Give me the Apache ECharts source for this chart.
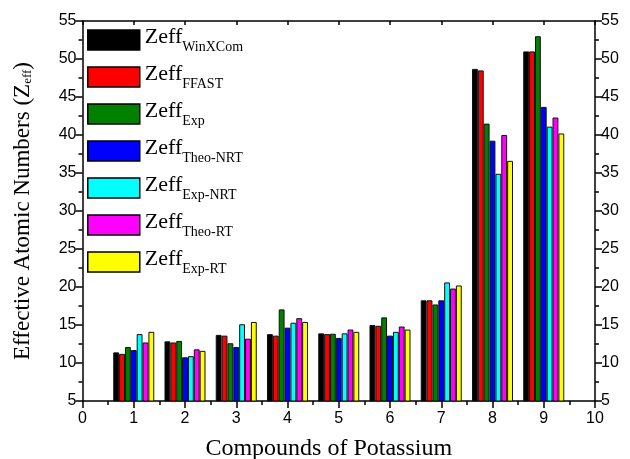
<!DOCTYPE html>
<html>
<head>
<meta charset="utf-8">
<script src="https://cdn.jsdelivr.net/npm/echarts@6/dist/echarts.min.js"></script>
<style>html,body{margin:0;padding:0;background:#fff;}#c{width:630px;height:459px;}</style>
</head>
<body>
<div id="c"></div>
<script>
var compounds = [1, 2, 3, 4, 5, 6, 7, 8, 9];
var xTicks = ['0','1','2','3','4','5','6','7','8','9','10'];
var yTicks = [5, 10, 15, 20, 25, 30, 35, 40, 45, 50, 55];
var seriesNames = ['WinXCom', 'FFAST', 'Exp', 'Theo-NRT', 'Exp-NRT', 'Theo-RT', 'Exp-RT'];
var seriesColors = ['#000000', '#ff0000', '#007f00', '#0000ff', '#00ffff', '#ff00ff', '#ffff00'];
var zeffWinXCom = [11.4, 12.85, 13.7, 13.8, 13.9, 15.0, 18.25, 48.7, 51.0];
var zeffFFAST   = [11.2, 12.7, 13.6, 13.6, 13.8, 14.9, 18.25, 48.5, 51.0];
var zeffExp     = [12.1, 12.9, 12.6, 17.05, 13.85, 16.0, 17.7, 41.5, 53.0];
var zeffTheoNRT = [11.7, 10.75, 12.1, 14.65, 13.3, 13.6, 18.25, 39.25, 43.7];
var zeffExpNRT  = [13.8, 10.9, 15.1, 15.3, 13.9, 14.1, 20.6, 34.9, 41.1];
var zeffTheoRT  = [12.7, 11.8, 13.2, 15.9, 14.4, 14.8, 19.8, 40.0, 42.3];
var zeffExpRT   = [14.1, 11.6, 15.4, 15.4, 14.1, 14.4, 20.2, 36.6, 40.2];
var allValues = [zeffWinXCom, zeffFFAST, zeffExp, zeffTheoNRT, zeffExpNRT, zeffTheoRT, zeffExpRT];

var chart = echarts.init(document.getElementById('c'));
var axisLineStyle = {color: '#000', width: 1.5};
var labelFont = {fontFamily: 'Liberation Sans, Arial, sans-serif', fontSize: 16, color: '#000'};

var series = seriesNames.map(function (n, i) {
  return {
    name: n,
    type: 'bar',
    barWidth: 5.86,
    barGap: '0%',
    itemStyle: {color: seriesColors[i], borderColor: '#111', borderWidth: 1},
    data: compounds.map(function (c, j) { return [c, allValues[i][j]]; })
  };
});

chart.setOption({
  animation: false,
  backgroundColor: '#fff',
  grid: {left: 82.5, right: 35, top: 21, bottom: 58, containLabel: false, outerBoundsMode: 'none'},
  legend: {
    orient: 'vertical',
    left: 82,
    top: 21,
    itemWidth: 52,
    itemHeight: 20,
    itemGap: 9,
    icon: 'rect',
    itemStyle: {borderColor: '#000', borderWidth: 1.5},
    data: seriesNames,
    formatter: function (name) { return '{a|Zeff}{b|' + name + '}'; },
    textStyle: {
      rich: {
        a: {fontFamily: 'Liberation Serif', fontSize: 22, color: '#000', lineHeight: 28, verticalAlign: 'top'},
        b: {fontFamily: 'Liberation Serif', fontSize: 14, color: '#000', lineHeight: 14, verticalAlign: 'bottom', padding: [14, 0, 0, 0]}
      }
    }
  },
  xAxis: [{
    type: 'value', min: 0, max: 10, interval: 1,
    name: 'Compounds of Potassium', nameLocation: 'middle', nameGap: 36,
    nameTextStyle: {fontFamily: 'Liberation Serif', fontSize: 24, color: '#000', padding: [0, 20, 0, 0]},
    axisLine: {show: true, onZero: false, lineStyle: axisLineStyle},
    axisTick: {show: true, inside: false, length: 7, lineStyle: axisLineStyle},
    minorTick: {show: true, splitNumber: 2, length: 4, lineStyle: {color: '#000', width: 1.5}},
    axisLabel: Object.assign({margin: 10, formatter: function (v) { return xTicks[v]; }}, labelFont),
    splitLine: {show: false}
  }, {
    type: 'value', min: 0, max: 10, interval: 1, position: 'top',
    axisLine: {show: true, onZero: false, lineStyle: axisLineStyle},
    axisTick: {show: true, inside: true, length: 4, lineStyle: axisLineStyle},
    minorTick: {show: false},
    axisLabel: {show: false},
    splitLine: {show: false}
  }],
  yAxis: [{
    type: 'value', min: 5, max: 55, interval: 5,
    name: 'Effective Atomic Numbers (Z{s|eff})', nameLocation: 'middle', nameGap: 48, nameRotate: 90,
    nameTextStyle: {fontFamily: 'Liberation Serif', fontSize: 23, color: '#000',
      rich: {s: {fontFamily: 'Liberation Serif', fontSize: 13, color: '#000', verticalAlign: 'bottom', padding: [11, 0, 0, 0]}}},
    axisLine: {show: true, onZero: false, lineStyle: axisLineStyle},
    axisTick: {show: true, inside: false, length: 7, lineStyle: axisLineStyle},
    minorTick: {show: true, splitNumber: 2, length: 4, lineStyle: {color: '#000', width: 1.5}},
    axisLabel: Object.assign({margin: 6, formatter: function (v) { return yTicks.indexOf(v) >= 0 ? String(v) : ''; }}, labelFont),
    splitLine: {show: false}
  }, {
    type: 'value', min: 5, max: 55, interval: 5, position: 'right',
    axisLine: {show: true, onZero: false, lineStyle: axisLineStyle},
    axisTick: {show: true, inside: false, length: 7, lineStyle: axisLineStyle},
    minorTick: {show: true, splitNumber: 2, length: 4, lineStyle: {color: '#000', width: 1.5}},
    axisLabel: Object.assign({margin: 6, formatter: function (v) { return yTicks.indexOf(v) >= 0 ? String(v) : ''; }}, labelFont),
    splitLine: {show: false}
  }],
  series: series
});
</script>
</body>
</html>
